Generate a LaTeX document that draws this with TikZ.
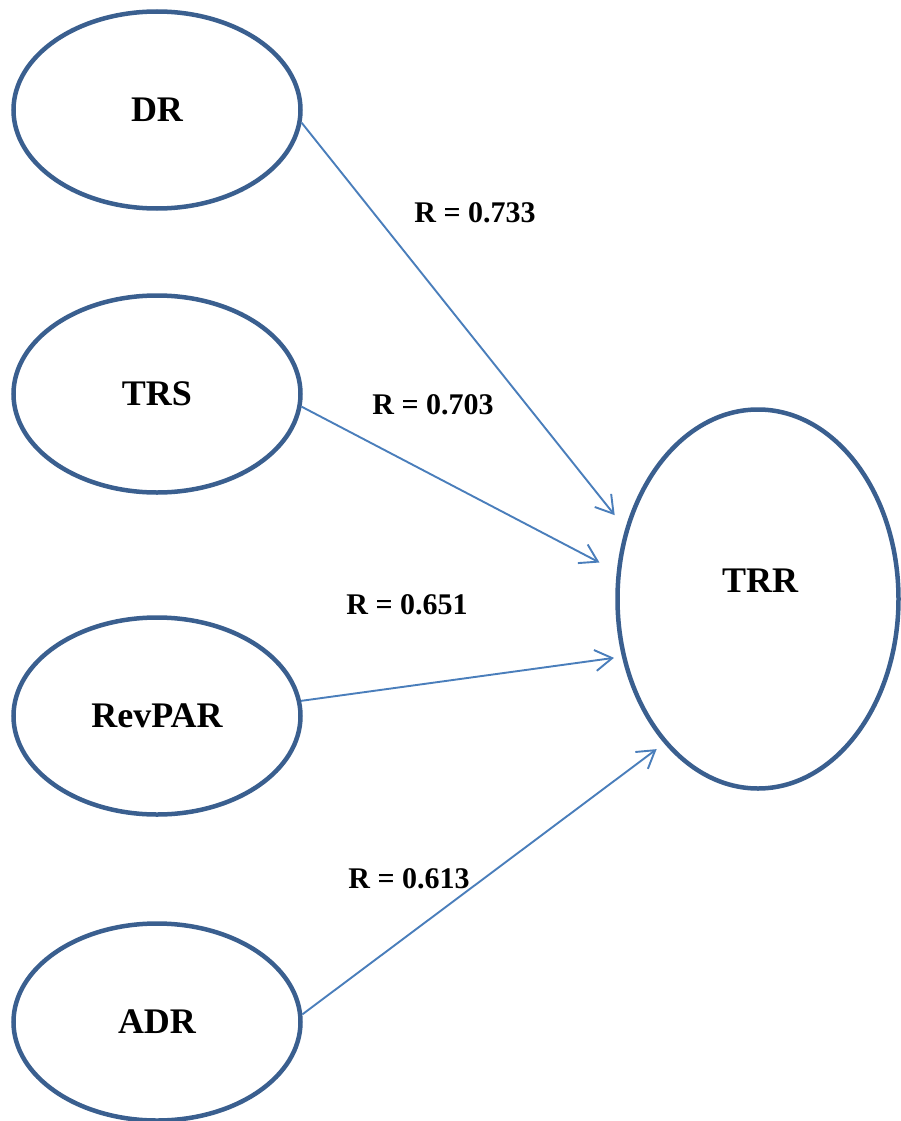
\documentclass[tikz,border=0pt]{standalone}
\usepackage{fontspec}
\setmainfont{Liberation Serif}
\usetikzlibrary{shapes.geometric,arrows.meta}
\definecolor{ellline}{HTML}{3A5F8F}
\definecolor{arrline}{HTML}{4A7EBB}
\tikzset{
  var/.style={ellipse, draw=ellline, line width=4.5pt, fill=white,
    inner sep=0pt, minimum width=287pt, minimum height=197pt,
    font=\fontsize{36}{40}\selectfont\bfseries},
  conn/.style={draw=arrline, line width=1.9pt,
    -{Straight Barb[length=17pt,width=21pt,line width=1.9pt]}},
  rlab/.style={inner sep=0pt, font=\fontsize{30}{34}\selectfont\bfseries}
}
\begin{document}
\begin{tikzpicture}[x=1pt,y=-1pt]
\useasboundingbox (0,0) rectangle (900,1121);
\node[var] (DR) at (157,110) {DR};
\node[var] (TRS) at (157,394) {TRS};
\node[var] (RevPAR) at (157,716) {RevPAR};
\node[var] (ADR) at (157,1022) {ADR};
\node[var, minimum width=281pt, minimum height=379pt] (TRR) at (758,599) {};
\node[inner sep=0pt, font=\fontsize{36}{40}\selectfont\bfseries] (TRRtext) at (760,581) {TRR};
\draw[conn, shorten >=17pt] (DR.-5.5) -- (TRR.152.4);
\draw[conn, shorten >=19.5pt] (TRS.-5.5) -- (TRR.169.2);
\draw[conn, shorten >=8pt] (RevPAR.6.3) -- (TRR.203.4);
\draw[conn, shorten >=9.4pt] (ADR.3.5) -- (TRR.237.7);
\node[rlab] (l1) at (475,213) {R = 0.733};
\node[rlab] (l2) at (433,405) {R = 0.703};
\node[rlab] (l3) at (407,605) {R = 0.651};
\node[rlab] (l4) at (409,879) {R = 0.613};
\end{tikzpicture}
\end{document}
